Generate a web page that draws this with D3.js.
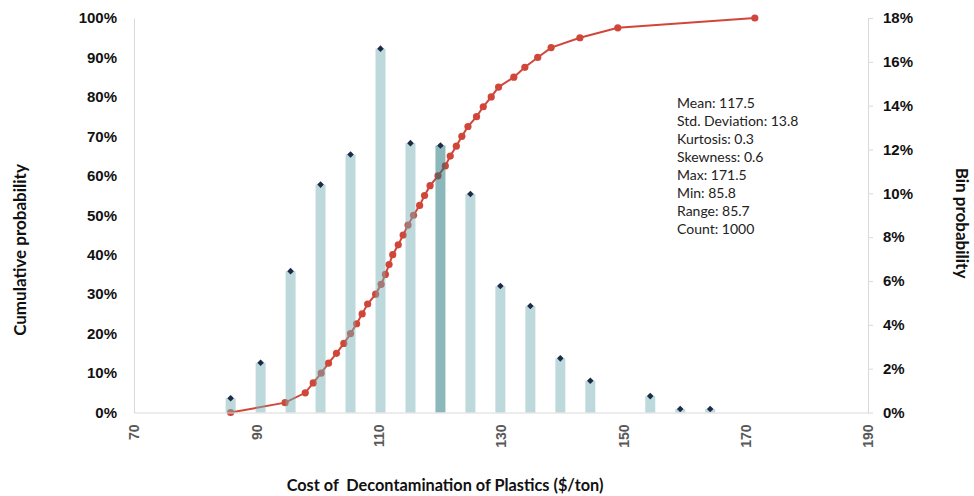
<!DOCTYPE html>
<html>
<head>
<meta charset="utf-8">
<script src="https://cdn.jsdelivr.net/npm/d3@7"></script>
<style>
  body { margin: 0; background: #fff; }
  svg { display: block; font-family: Lato, "Open Sans", sans-serif; }
</style>
</head>
<body>
<svg id="chart" width="974" height="496"></svg>
<script>
// bin centres ($/ton) and bin probabilities
const binCenters = [85.8, 90.7, 95.6, 100.5, 105.4, 110.3, 115.2, 120.1, 125.0, 129.9, 134.8, 139.7, 144.6, 154.4, 159.3, 164.2];
const binProb = [0.0065, 0.0227, 0.0645, 0.104, 0.1177, 0.166, 0.1229, 0.1218, 0.0997, 0.0577, 0.0486, 0.0247, 0.0145, 0.0075, 0.0016, 0.0016];
const highlightBin = 120.1;

// cumulative curve points
const cumX = [85.8, 94.7, 98.0, 99.3, 100.6, 101.8, 103.1, 104.3, 105.4, 106.4, 107.3, 108.2, 109.5, 110.4, 111.1, 111.7, 112.3, 113.2, 114.0, 114.8, 115.7, 116.7, 117.5, 118.4, 119.7, 120.9, 121.7, 122.7, 123.6, 124.6, 126.0, 127.1, 128.4, 129.6, 132.1, 133.9, 136.0, 138.2, 142.9, 149.1, 171.5];
const cumP = [0, 0.025, 0.05, 0.075, 0.10, 0.125, 0.15, 0.175, 0.20, 0.225, 0.25, 0.275, 0.30, 0.325, 0.35, 0.375, 0.40, 0.425, 0.45, 0.475, 0.50, 0.525, 0.55, 0.575, 0.60, 0.625, 0.65, 0.675, 0.70, 0.725, 0.75, 0.775, 0.80, 0.825, 0.85, 0.875, 0.90, 0.925, 0.95, 0.975, 1.0];

const xTicks = [70, 90, 110, 130, 150, 170, 190];
const leftTicks = [0, 0.1, 0.2, 0.3, 0.4, 0.5, 0.6, 0.7, 0.8, 0.9, 1.0];
const rightTicks = [0, 0.02, 0.04, 0.06, 0.08, 0.10, 0.12, 0.14, 0.16, 0.18];

const stats = ["Mean: 117.5", "Std. Deviation: 13.8", "Kurtosis: 0.3", "Skewness: 0.6", "Max: 171.5", "Min: 85.8", "Range: 85.7", "Count: 1000"];

const svg = d3.select("#chart");
const margin = { top: 18, right: 106, bottom: 83.5, left: 134 };
const W = 974, H = 496;

const x = d3.scaleLinear().domain([70, 190]).range([margin.left, W - margin.right]);
const yL = d3.scaleLinear().domain([0, 1]).range([H - margin.bottom, margin.top]);
const yR = d3.scaleLinear().domain([0, 0.18]).range([H - margin.bottom, margin.top]);

const axisColor = "#d9d9d9";

// cumulative line (drawn beneath the translucent bars)
const cum = cumX.map((v, i) => ({ x: v, p: cumP[i] }));
svg.append("path")
  .datum(cum)
  .attr("fill", "none")
  .attr("stroke", "#d0473a")
  .attr("stroke-width", 2)
  .attr("d", d3.line().x(d => x(d.x)).y(d => yL(d.p)));

svg.selectAll("circle.cum")
  .data(cum)
  .enter()
  .append("circle")
  .attr("class", "cum")
  .attr("cx", d => x(d.x))
  .attr("cy", d => yL(d.p))
  .attr("r", 3.6)
  .attr("fill", "#d0473a");

// bars
const bins = binCenters.map((c, i) => ({ c, p: binProb[i] }));
const barW = 10;
svg.selectAll("rect.bar")
  .data(bins)
  .enter()
  .append("rect")
  .attr("class", "bar")
  .attr("x", d => x(d.c) - barW / 2)
  .attr("y", d => yR(d.p))
  .attr("width", barW)
  .attr("height", d => yR(0) - yR(d.p))
  .attr("fill", d => d.c === highlightBin ? "#1a7278" : "#77b0b5")
  .attr("fill-opacity", d => d.c === highlightBin ? 0.5 : 0.48);

// diamonds at bar tops
svg.selectAll("path.dia")
  .data(bins)
  .enter()
  .append("path")
  .attr("class", "dia")
  .attr("transform", d => `translate(${x(d.c)},${yR(d.p)}) rotate(45)`)
  .attr("d", d3.symbol(d3.symbolSquare, 22))
  .attr("fill", "#1b2b48");

// axes
const gx = svg.append("g")
  .attr("transform", `translate(0,${H - margin.bottom})`)
  .call(d3.axisBottom(x).tickValues(xTicks).tickSize(0).tickPadding(0));
gx.select(".domain").attr("stroke", axisColor);
gx.selectAll("text")
  .attr("transform", "rotate(-90)")
  .attr("text-anchor", "end")
  .attr("x", -12)
  .attr("y", 0)
  .attr("dy", "0.35em")
  .attr("fill", "#595959")
  .style("font-size", "14px")
  .style("font-weight", "bold");

const gl = svg.append("g")
  .attr("transform", `translate(${margin.left},0)`)
  .call(d3.axisLeft(yL).tickValues(leftTicks).tickFormat(d3.format(".0%")).tickSize(0).tickPadding(17));
gl.select(".domain").attr("stroke", axisColor);
gl.selectAll("text")
  .attr("fill", "#111")
  .style("font-size", "15px")
  .style("font-weight", "bold");

const gr = svg.append("g")
  .attr("transform", `translate(${W - margin.right},0)`)
  .call(d3.axisRight(yR).tickValues(rightTicks).tickFormat(d3.format(".0%")).tickSize(5).tickSizeOuter(0).tickPadding(10));
gr.select(".domain").attr("stroke", axisColor);
gr.selectAll(".tick line").attr("stroke", axisColor);
gr.selectAll("text")
  .attr("fill", "#111")
  .style("font-size", "15px")
  .style("font-weight", "bold");

// axis titles
svg.append("text")
  .attr("x", 445)
  .attr("y", 491)
  .attr("text-anchor", "middle")
  .attr("fill", "#111")
  .style("font-size", "16.3px")
  .style("font-weight", "bold")
  .style("white-space", "pre")
  .text("Cost of  Decontamination of Plastics ($/ton)");

svg.append("text")
  .attr("transform", "translate(26,250) rotate(-90)")
  .attr("text-anchor", "middle")
  .attr("fill", "#111")
  .style("font-size", "17px")
  .style("font-weight", "bold")
  .text("Cumulative probability");

svg.append("text")
  .attr("transform", "translate(956,223) rotate(90)")
  .attr("text-anchor", "middle")
  .attr("fill", "#111")
  .style("font-size", "17px")
  .style("font-weight", "bold")
  .text("Bin probability");

// statistics block
svg.append("g")
  .selectAll("text")
  .data(stats)
  .enter()
  .append("text")
  .attr("x", 677)
  .attr("y", (d, i) => 107.5 + i * 18)
  .attr("fill", "#222")
  .style("font-size", "14px")
  .text(d => d);
</script>
</body>
</html>
